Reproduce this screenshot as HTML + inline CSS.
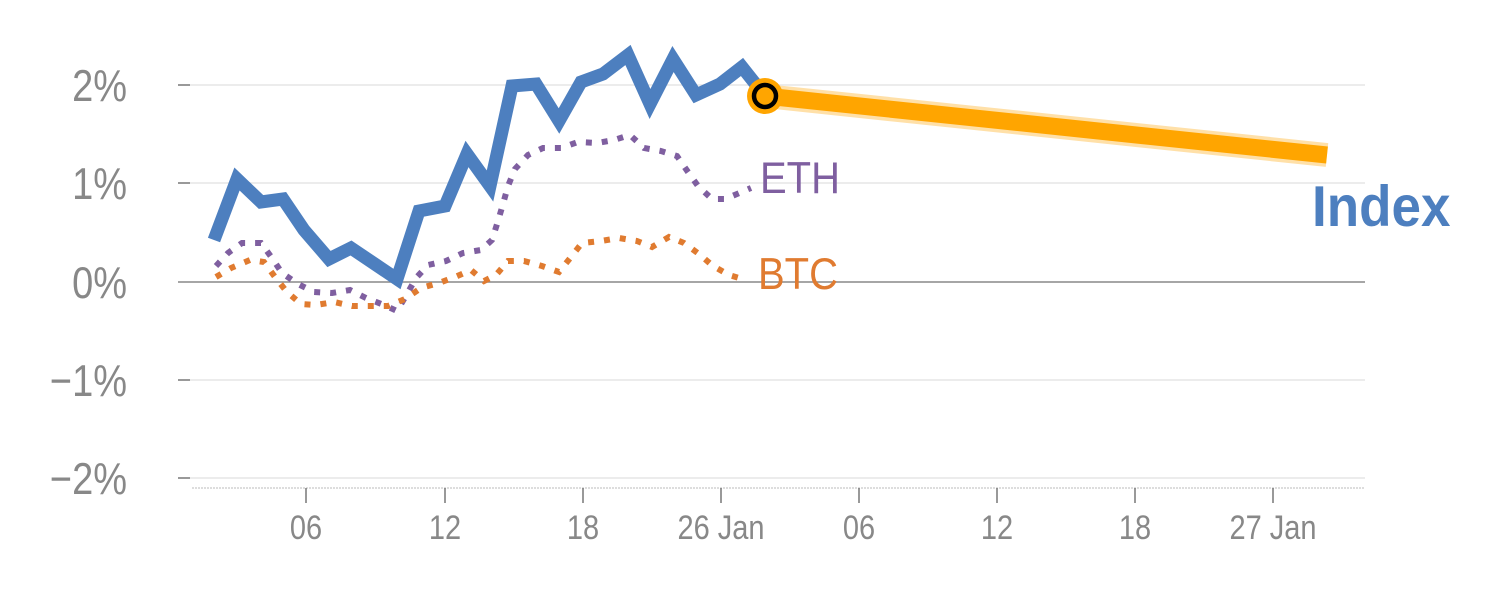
<!DOCTYPE html>
<html><head><meta charset="utf-8"><style>
html,body{margin:0;padding:0;background:#fff;}
svg{display:block;font-family:"Liberation Sans",sans-serif;}
</style></head><body>
<svg width="1500" height="600" viewBox="0 0 1500 600">
<g stroke="#e6e6e6" stroke-width="1.5">
<line x1="190" y1="85" x2="1365" y2="85"/>
<line x1="190" y1="183" x2="1365" y2="183"/>
<line x1="190" y1="380" x2="1365" y2="380"/>
<line x1="190" y1="478" x2="1365" y2="478"/>
</g>
<line x1="178" y1="282" x2="1365" y2="282" stroke="#888" stroke-width="1.5"/>
<line x1="192" y1="488" x2="1365" y2="488" stroke="#ddd" stroke-width="2" stroke-dasharray="2,1"/>
<g stroke="#777" stroke-width="1.5">
<line x1="178" y1="85" x2="190" y2="85"/><line x1="178" y1="183" x2="190" y2="183"/><line x1="178" y1="380" x2="190" y2="380"/><line x1="178" y1="478" x2="190" y2="478"/>
<line x1="306" y1="488" x2="306" y2="503"/><line x1="445" y1="488" x2="445" y2="503"/><line x1="583" y1="488" x2="583" y2="503"/><line x1="721" y1="488" x2="721" y2="503"/><line x1="859" y1="488" x2="859" y2="503"/><line x1="997" y1="488" x2="997" y2="503"/><line x1="1135" y1="488" x2="1135" y2="503"/><line x1="1273" y1="488" x2="1273" y2="503"/>
</g>
<g fill="#888" font-size="38" text-anchor="end">
<text transform="translate(127,101) scale(1,1.17)">2%</text>
<text transform="translate(127,199) scale(1,1.17)">1%</text>
<text transform="translate(127,298) scale(1,1.17)">0%</text>
<text transform="translate(127,396) scale(1,1.17)">−1%</text>
<text transform="translate(127,494) scale(1,1.17)">−2%</text>
</g>
<g fill="#888" font-size="29" text-anchor="middle">
<text transform="translate(306,539) scale(1,1.17)">06</text>
<text transform="translate(445,539) scale(1,1.17)">12</text>
<text transform="translate(583,539) scale(1,1.17)">18</text>
<text transform="translate(721,539) scale(1,1.17)">26 Jan</text>
<text transform="translate(859,539) scale(1,1.17)">06</text>
<text transform="translate(997,539) scale(1,1.17)">12</text>
<text transform="translate(1135,539) scale(1,1.17)">18</text>
<text transform="translate(1273,539) scale(1,1.17)">27 Jan</text>
</g>
<polyline fill="none" stroke="#7f5fa0" stroke-width="6" stroke-dasharray="6,10" points="216,266 228,253 242,243 261,243 272,258 282,273 298,284 314,292 332,293 350,290 366,298 384,305 397,311 407,294 416,278 428,265 446,261 463,253 481,250 492,240 498,221 503,204 508,186 515,169 528,155 543,148 561,148 578,142 597,143 614,140 630,135 644,148 661,151 677,156 688,172 698,186 712,199 725,199 737,194 751,188"/>
<polyline fill="none" stroke="#e07b30" stroke-width="6" stroke-dasharray="6,10" points="216,277 231,268 250,260 264,262 275,277 287,292 301,304 316,305 334,302 352,306 371,306 388,306 405,299 421,288 439,283 455,277 471,270 484,281 496,275 508,261 524,261 542,266 559,272 571,257 582,243 601,241 619,238 637,241 652,247 669,237 684,243 699,254 713,266 729,275 746,280"/>
<polyline fill="none" stroke="#4d7fbf" stroke-width="13" stroke-linejoin="miter" points="214,240 237,179 261,202 283,199 304,230 329,259 351,248 397,279 419,211 445,206 467,154 490,186 512,86 536,84 559,121 581,82 603,74 628,55 650,104 673,59 696,95 720,84 742,67 765,96"/>
<line x1="765" y1="96" x2="1327" y2="155" stroke="#ffe0a8" stroke-width="24"/>
<line x1="765" y1="96" x2="1327" y2="155" stroke="#ffa500" stroke-width="17"/>
<circle cx="765" cy="96" r="18" fill="#ffa500"/>
<circle cx="765" cy="96" r="11" fill="#ffa500" stroke="#000" stroke-width="4.5"/>
<text transform="translate(760,193) scale(1,1.12)" font-size="40" fill="#7f5fa0">ETH</text>
<text transform="translate(758,289) scale(1,1.12)" font-size="40" fill="#e07b30">BTC</text>
<text transform="translate(1312,226) scale(1,1.08)" font-size="53" font-weight="bold" fill="#4d7fbf">Index</text>
</svg>
</body></html>
